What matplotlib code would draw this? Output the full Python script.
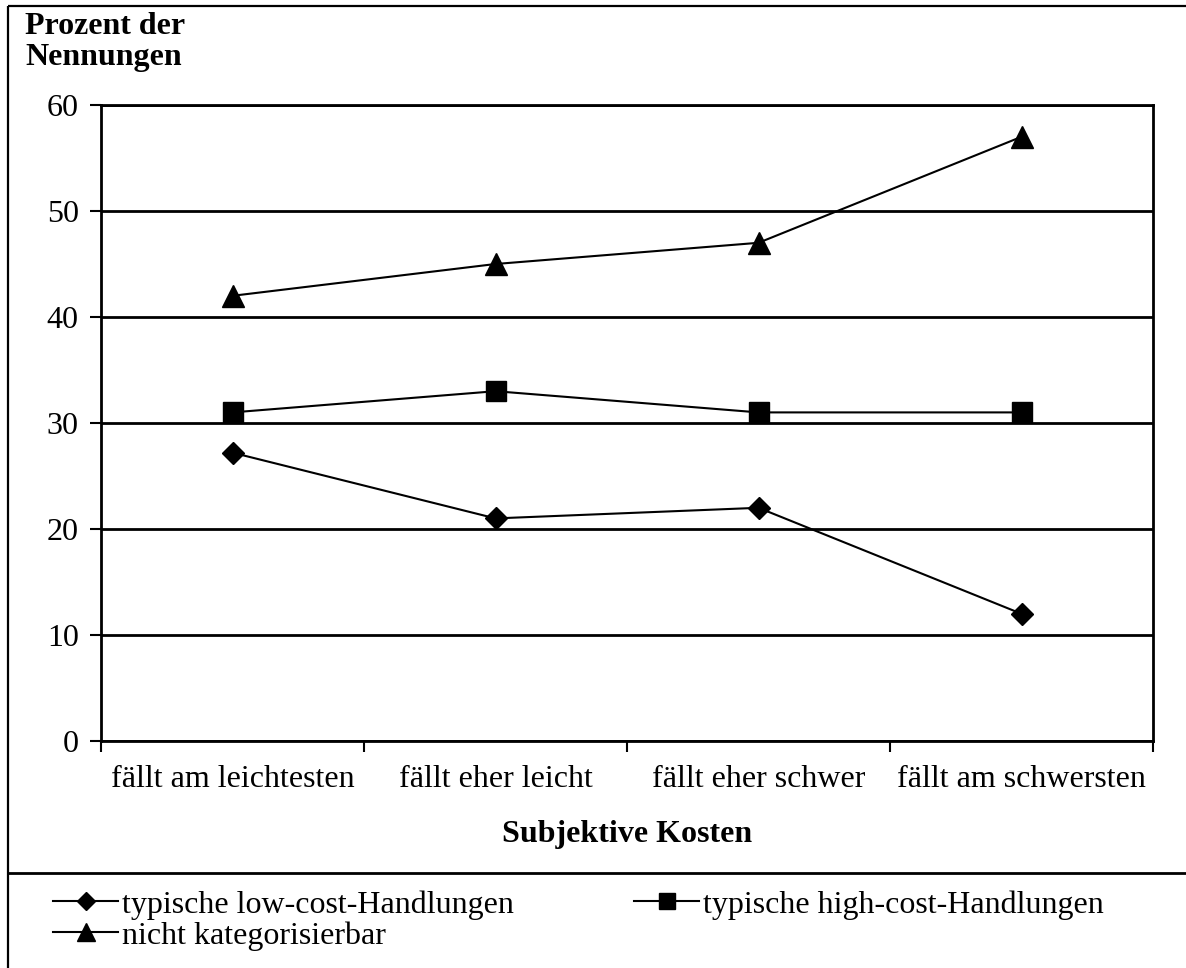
import matplotlib
matplotlib.use("Agg")
from matplotlib import pyplot as plt
from matplotlib.lines import Line2D

kategorien = ["fällt am leichtesten", "fällt eher leicht", "fällt eher schwer", "fällt am schwersten"]
low_cost = [27.2, 21, 22, 12]
high_cost = [31, 33, 31, 31]
nicht_kat = [42, 45, 47, 57]
namen = ["typische low-cost-Handlungen", "typische high-cost-Handlungen", "nicht kategorisierbar"]
y_ticks = [0, 10, 20, 30, 40, 50, 60]

plt.rcParams['font.family'] = ['Liberation Serif', 'DejaVu Serif']
W, H = 1186, 968
fig = plt.figure(figsize=(W / 100, H / 100), dpi=100)


def fig_linie(xs, ys, lw=1.5):
    # Linie in Pixelkoordinaten (von oben gemessen)
    fig.lines.append(Line2D([v / W for v in xs], [1 - v / H for v in ys], transform=fig.transFigure,
                            color="black", linewidth=lw, solid_capstyle="butt"))


# Rahmen (nur links und oben sichtbar) und Trennlinie ueber der Legende
fig_linie([8, 8], [6, H], lw=1.6)
fig_linie([8, W], [6, 6], lw=1.6)
fig_linie([8, W], [873, 873], lw=2)

ax = fig.add_axes([101 / W, 1 - 741 / H, (1153 - 101) / W, (741 - 105) / H])
x = range(len(kategorien))
l1, = ax.plot(x, low_cost, color="black", lw=1.5, marker="D", ms=11.5, label=namen[0])
l2, = ax.plot(x, high_cost, color="black", lw=1.5, marker="s", ms=14, label=namen[1])
l3, = ax.plot(x, nicht_kat, color="black", lw=1.5, marker="^", ms=16, label=namen[2])

ax.set_xlim(-0.5, len(kategorien) - 0.5)
ax.set_ylim(0, 60)
ax.set_yticks(y_ticks)
ax.set_yticklabels([str(v) for v in y_ticks], fontsize=23)
ax.set_xticks([i - 0.5 for i in range(len(kategorien) + 1)])
ax.set_xticklabels([])
ax.set_xticks(list(x), minor=True)
ax.set_xticklabels(kategorien, minor=True, fontsize=23)
ax.tick_params(axis="x", which="minor", length=0, pad=17)
ax.tick_params(axis="x", which="major", direction="out", length=8, width=1.5)
ax.tick_params(axis="y", direction="out", length=8, width=1.5, pad=8)
ax.grid(axis="y", color="black", linewidth=2)
ax.set_axisbelow(True)
for s in ax.spines.values():
    s.set_linewidth(2)

ax.set_xlabel("Subjektive Kosten", fontsize=23, fontweight="bold", labelpad=19)
fig.text(25 / W, 1 - 12 / H, "Prozent der\nNennungen", fontsize=23, fontweight="bold",
         ha="left", va="top", linespacing=1.08)

fig.legend([l1, l3, l2], [namen[0], namen[2], namen[1]], ncol=2, frameon=False,
           loc="upper left", bbox_to_anchor=(53 / W, 1 - 890 / H), fontsize=23,
           handlelength=2.05, handletextpad=0.12, columnspacing=3.75, labelspacing=0.05,
           markerscale=0.8, borderaxespad=0, borderpad=0)

fig.savefig("out.png", dpi=100)
